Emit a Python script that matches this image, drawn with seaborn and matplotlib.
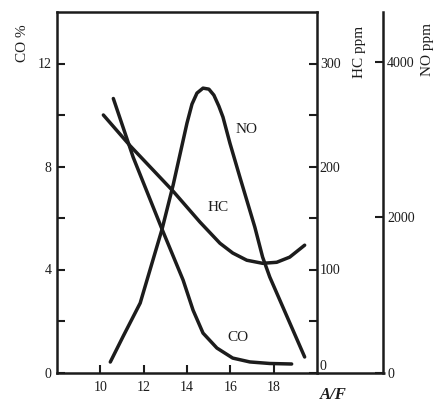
import matplotlib
matplotlib.use("Agg")
import matplotlib.pyplot as plt
import seaborn as sns
import pandas as pd

# ---- data ----
af_co = [10.6, 11.52, 12.85, 13.82, 14.28, 14.74, 15.38, 16.11, 16.9, 17.82, 18.83]
co_pct = [10.64, 8.35, 5.56, 3.59, 2.42, 1.53, 0.95, 0.56, 0.41, 0.35, 0.33]

af_hc = [10.14, 11.38, 13.36, 14.6, 15.52, 16.11, 16.76, 17.49, 18.14, 18.74, 19.43]
hc_ppm = [250, 220, 176, 146, 125.5, 116, 109, 106, 107, 112, 123.6]

af_no = [10.46, 11.06, 11.84, 12.85, 13.36, 14.0, 14.23, 14.46, 14.74, 15.01,
         15.24, 15.47, 15.66, 15.98, 16.44, 17.13, 17.49, 17.82, 19.43]
no_ppm = [135, 470, 895, 1848, 2415, 3214, 3458, 3600, 3664, 3651,
          3574, 3432, 3291, 2956, 2518, 1874, 1487, 1230, 200]

x_ticks = [10, 12, 14, 16, 18]
co_ticks = [0, 2, 4, 6, 8, 10, 12]
co_labels = ["0", "", "4", "", "8", "", "12"]
hc_ticks = [0, 50, 100, 150, 200, 250, 300]
hc_labels = ["0", "", "100", "", "200", "", "300"]
no_ticks = [0, 2000, 4000]
no_labels = ["0", "2000", "4000"]

sns.set_style("white")
plt.rcParams["font.family"] = ["Liberation Serif", "DejaVu Serif"]

W, H = 437, 405
fig = plt.figure(figsize=(W / 100, H / 100), dpi=100)
L, R, T, B = 57, 317, 12, 372.5
ax = fig.add_axes([L / W, 1 - B / H, (R - L) / W, (B - T) / H])
ax2 = ax.twinx()
ax3 = ax.twinx()

ink = "#1c1c1c"
lw = 2.5

df_co = pd.DataFrame({"af": af_co, "v": co_pct})
df_hc = pd.DataFrame({"af": af_hc, "v": hc_ppm})
df_no = pd.DataFrame({"af": af_no, "v": no_ppm})
sns.lineplot(data=df_co, x="af", y="v", ax=ax, color=ink, lw=lw, sort=False)
sns.lineplot(data=df_hc, x="af", y="v", ax=ax2, color=ink, lw=lw, sort=False)
sns.lineplot(data=df_no, x="af", y="v", ax=ax3, color=ink, lw=lw, sort=False)
for a in (ax, ax2, ax3):
    for ln in a.get_lines():
        ln.set_solid_joinstyle("round")
        ln.set_solid_capstyle("round")

ax.set_xlim(8, 20)
ax.set_ylim(0, 14)
ax2.set_ylim(0, 350)
ax3.set_ylim(0, 4645)
for a in (ax, ax2, ax3):
    a.set_xlabel("")
    a.set_ylabel("")

spw = 1.8
for s in ax.spines.values():
    s.set_linewidth(spw)
    s.set_color(ink)
ax.spines["right"].set_visible(False)
for s in ("left", "top", "bottom"):
    ax2.spines[s].set_visible(False)
    ax3.spines[s].set_visible(False)
ax2.spines["right"].set_linewidth(spw)
ax2.spines["right"].set_color(ink)
ax3.spines["right"].set_position(("axes", (383 - L) / (R - L)))
ax3.spines["right"].set_linewidth(spw)
ax3.spines["right"].set_color(ink)

# bottom line extension to the NO axis
ax.plot([1, (385 - L) / (R - L)], [0, 0], transform=ax.transAxes,
        color=ink, lw=spw, clip_on=False, solid_capstyle="butt")

fs = 10
ax.set_xticks(x_ticks)
ax.set_xticklabels([str(t) for t in x_ticks])
ax.set_yticks(co_ticks)
ax.set_yticklabels(co_labels)
ax.tick_params(axis="both", direction="in", length=6, width=1.5,
               colors=ink, labelsize=fs, pad=4)
ax.tick_params(axis="x", pad=6)
ax.tick_params(left=True, bottom=True)

ax2.set_yticks(hc_ticks)
ax2.set_yticklabels(hc_labels)
ax2.tick_params(axis="y", direction="in", length=6, width=1.5,
                colors=ink, labelsize=fs, pad=2, right=True)
ax3.set_yticks(no_ticks)
ax3.set_yticklabels(no_labels)
ax3.tick_params(axis="y", direction="in", length=6, width=1.5,
                colors=ink, labelsize=fs, pad=3, right=True)
ax2.get_yticklabels()[0].set_va("bottom")

# curve labels
ax.text(16.76, 9.44, "NO", fontsize=11, ha="center", va="center", color=ink)
ax.text(15.43, 6.42, "HC", fontsize=11, ha="center", va="center", color=ink)
ax.text(16.34, 1.34, "CO", fontsize=11, ha="center", va="center", color=ink)

# axis titles
fig.text(22 / W, 1 - 43 / H, "CO %", rotation=90, fontsize=11,
         ha="center", va="center", color=ink)
fig.text(359 / W, 1 - 52 / H, "HC ppm", rotation=90, fontsize=11,
         ha="center", va="center", color=ink)
fig.text(428 / W, 1 - 50 / H, "NO ppm", rotation=90, fontsize=11,
         ha="center", va="center", color=ink)
fig.text(333 / W, 1 - 395 / H, "A/F", fontsize=12, style="italic",
         weight="bold", ha="center", va="center", color=ink)

fig.savefig("out.png", dpi=100)
